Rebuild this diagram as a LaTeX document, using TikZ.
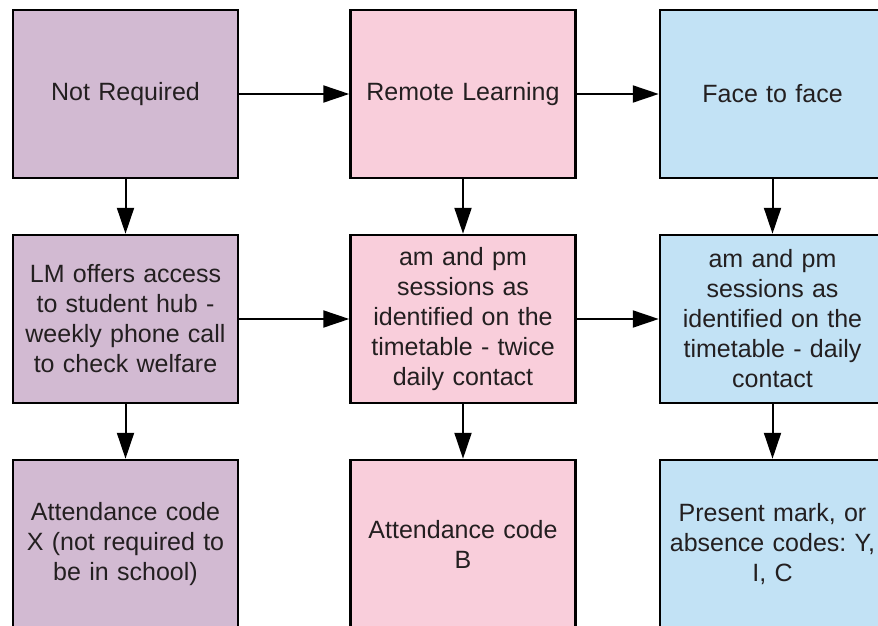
\documentclass[tikz,border=0pt]{standalone}
\usepackage{fontspec}
\setmainfont{Liberation Sans}
\usetikzlibrary{arrows.meta}
\frenchspacing
\definecolor{cpurple}{RGB}{210,186,210}
\definecolor{cpink}{RGB}{249,206,219}
\definecolor{cblue}{RGB}{194,226,245}
\definecolor{ctext}{RGB}{35,31,32}
\tikzset{
  box/.style={draw=black, line width=2.5pt, rectangle, minimum width=225pt, minimum height=168pt,
    text width=219pt, align=center, inner sep=0pt, text=ctext,
    font=\fontsize{25pt}{30pt}\selectfont},
  conn/.style={line width=2pt, -{Triangle[length=26pt,width=17pt]}}
}
\begin{document}
\begin{tikzpicture}[x=1pt,y=-1pt]
\useasboundingbox (0,0) rectangle (878,626);
\clip (0,0) rectangle (878,626);
\fill[white] (0,0) rectangle (878,626);
% row 1
\node[box, fill=cpurple] (a1) at (125.5,94) {Not Required};
\node[box, fill=cpink] (b1) at (463,94) {Remote Learning};
\node[box, fill=cblue] (c1) at (772.5,94) {Face to face};
% row 2
\node[box, fill=cpurple] (a2) at (125.5,319) {LM offers access\\to student hub -\\weekly phone call\\to check welfare};
\node[box, fill=cpink] (b2) at (463,319) {am and pm\\sessions as\\identified on the\\timetable - twice\\daily contact};
\node[box, fill=cblue] (c2) at (772.5,319) {am and pm\\sessions as\\identified on the\\timetable - daily\\contact};
% row 3
\node[box, fill=cpurple] (a3) at (125.5,544) {Attendance code\\X (not required to\\be in school)};
\node[box, fill=cpink] (b3) at (463,544) {Attendance code\\B};
\node[box, fill=cblue] (c3) at (772.5,544) {Present mark, or\\absence codes: Y,\\I, C};
% horizontal connectors
\draw[conn] (a1) -- (b1);
\draw[conn] (b1) -- (c1);
\draw[conn] (a2) -- (b2);
\draw[conn] (b2) -- (c2);
% vertical connectors
\draw[conn] (a1) -- (a2);
\draw[conn] (b1) -- (b2);
\draw[conn] (c1) -- (c2);
\draw[conn] (a2) -- (a3);
\draw[conn] (b2) -- (b3);
\draw[conn] (c2) -- (c3);
\end{tikzpicture}
\end{document}
